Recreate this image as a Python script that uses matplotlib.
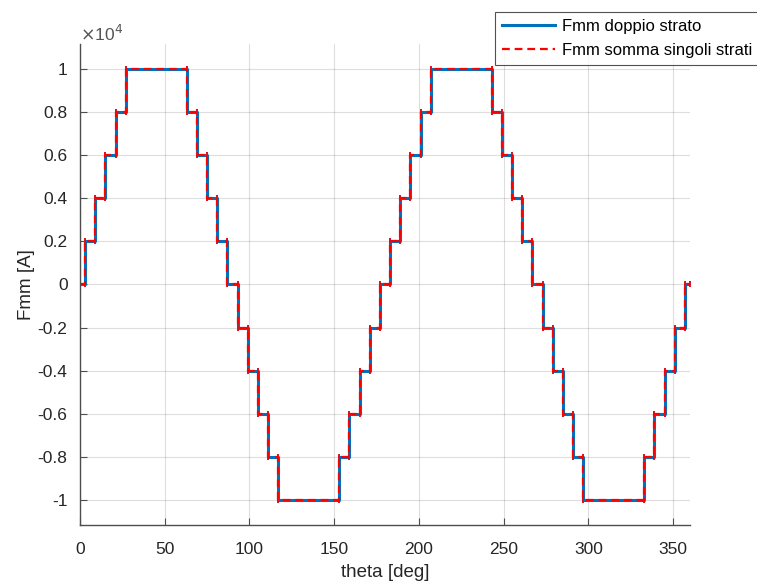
import numpy as np
import matplotlib.pyplot as plt

plt.rcParams['font.family'] = ['Liberation Sans', 'DejaVu Sans']

# angles (deg) where the mmf steps, and level reached after each step
step_theta = [3, 9, 15, 21, 27,
              63, 69, 75, 81, 87, 93, 99, 105, 111, 117,
              153, 159, 165, 171, 177, 183, 189, 195, 201, 207,
              243, 249, 255, 261, 267, 273, 279, 285, 291, 297,
              333, 339, 345, 351, 357]
step_level = [2000, 4000, 6000, 8000, 10000,
              8000, 6000, 4000, 2000, 0, -2000, -4000, -6000, -8000, -10000,
              -8000, -6000, -4000, -2000, 0, 2000, 4000, 6000, 8000, 10000,
              8000, 6000, 4000, 2000, 0, -2000, -4000, -6000, -8000, -10000,
              -8000, -6000, -4000, -2000, 0]
start_level = 0
theta_end = 360

yticks = [-10000, -8000, -6000, -4000, -2000, 0, 2000, 4000, 6000, 8000, 10000]
ytick_labels = ['-1', '-0.8', '-0.6', '-0.4', '-0.2', '0', '0.2', '0.4', '0.6', '0.8', '1']
xticks = [0, 50, 100, 150, 200, 250, 300, 350]

# corner points of the staircase
theta = [0]
fmm = [start_level]
prev = start_level
for t, v in zip(step_theta, step_level):
    theta += [t, t]
    fmm += [prev, v]
    prev = v
theta.append(theta_end)
fmm.append(prev)

txt = '#262626'
fig = plt.figure(figsize=(7.57, 5.85), dpi=100)
ax = fig.add_axes([0.1057, 0.1026, 0.8058, 0.8222])

ax.plot(theta, fmm, color='#0072BD', lw=2.2, marker='|', ms=5, mew=1.2,
        label='Fmm doppio strato')
ax.plot(theta, fmm, color='#FF0000', lw=1.6, ls=(0, (3.5, 2.2)), marker='|', ms=5, mew=1.2,
        label='Fmm somma singoli strati')

ax.set_xlim(0, 360)
ax.set_ylim(-11160, 11160)
ax.set_xticks(xticks)
ax.set_yticks(yticks)
ax.set_yticklabels(ytick_labels)
ax.grid(True, color='#000000', alpha=0.13, lw=0.8)
ax.set_axisbelow(True)

ax.spines['right'].set_visible(False)
ax.spines['top'].set_visible(False)
for s in ['left', 'bottom']:
    ax.spines[s].set_color('#4d4d4d')
    ax.spines[s].set_linewidth(1.0)
ax.tick_params(direction='in', length=5, colors='#4d4d4d', labelcolor=txt, labelsize=12.5)
ax.tick_params(axis='y', pad=9)
ax.tick_params(axis='x', pad=12)

ax.set_xlabel('theta [deg]', fontsize=13.5, color=txt, labelpad=5)
ax.set_ylabel('Fmm [A]', fontsize=13.5, color=txt, labelpad=2)
ax.text(0.0, 1.0, r'$\times$10$^4$', transform=ax.transAxes, fontsize=12.5, color='#555555',
        ha='left', va='bottom')

leg = ax.legend(loc='upper left', bbox_to_anchor=(495 / 757, 1 - 12 / 585),
                bbox_transform=fig.transFigure, fontsize=12, frameon=True, fancybox=False,
                borderpad=0.4, handlelength=3.2, handletextpad=0.4, labelspacing=0.55,
                borderaxespad=0)
leg.get_frame().set_edgecolor('#262626')
leg.get_frame().set_linewidth(0.8)
for h in leg.legend_handles:
    h.set_marker('')

fig.savefig('out.png', dpi=100)
